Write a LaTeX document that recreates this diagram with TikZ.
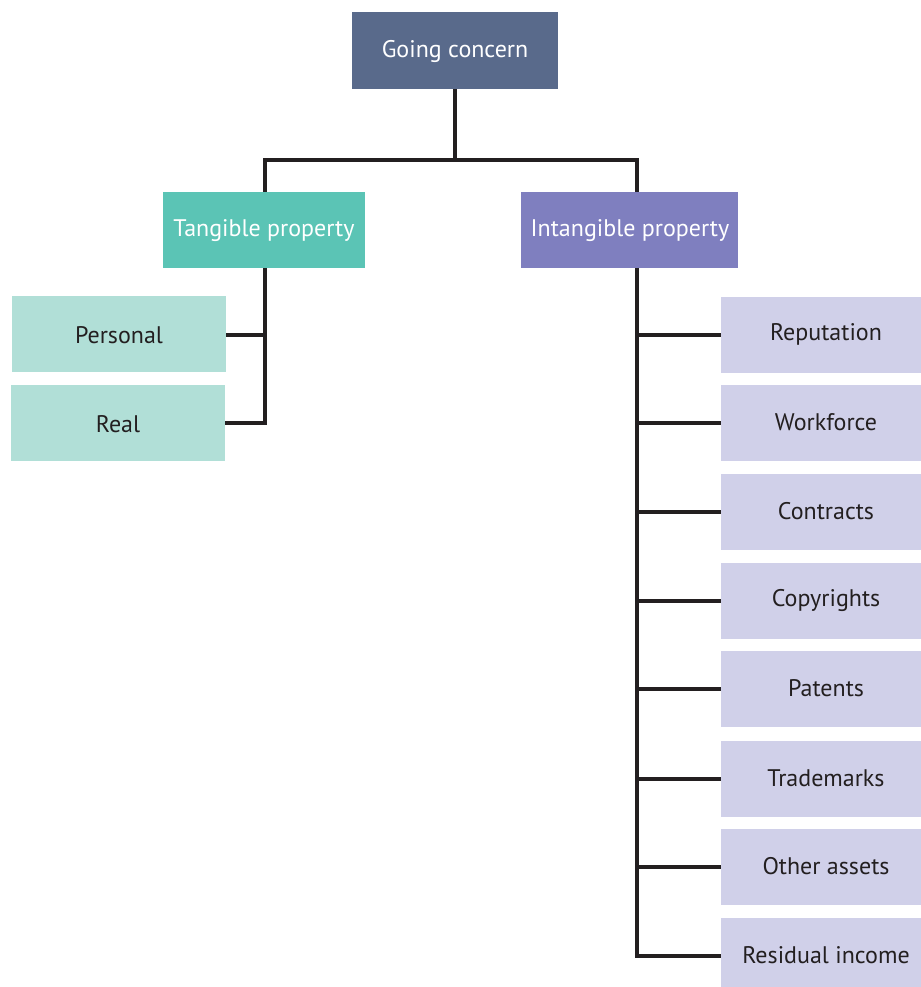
\documentclass[tikz,border=0pt]{standalone}
\usepackage{fontspec}
\setmainfont{PT Sans}
\definecolor{topc}{HTML}{596A8B}
\definecolor{tanc}{HTML}{5BC4B5}
\definecolor{intc}{HTML}{7F7FBF}
\definecolor{ltan}{HTML}{B1DFD7}
\definecolor{lint}{HTML}{D0D0E9}
\definecolor{linec}{HTML}{231F20}
\begin{document}
\begin{tikzpicture}[x=0.75pt,y=-0.75pt,
  box/.style={draw=none,inner sep=0pt,font=\fontsize{18}{21}\selectfont},
  wbox/.style={box,text=white},
  dbox/.style={box,text=linec},
  conn/.style={draw=linec,line width=3.2pt}]
\useasboundingbox (0,0) rectangle (920,987);
\fill[white] (0,0) rectangle (920,987);
% boxes
\fill[topc] (352,12) rectangle (558,89);
\node[wbox] (gc) at (455,51.5) {Going concern};
\coordinate (gcb) at (455,89);
\fill[tanc] (163,192) rectangle (365,268);
\node[wbox] (tp) at (264,231) {Tangible property};
\fill[intc] (521,192) rectangle (738,268);
\node[wbox] (ip) at (630,231) {Intangible property};
\fill[ltan] (12,296) rectangle (226,372);
\node[dbox] (pe) at (119,335) {Personal};
\fill[ltan] (11,385) rectangle (225,461);
\node[dbox] (re) at (118,424) {Real};
\foreach \n/\t/\y in {r1/Reputation/297,r2/Workforce/385,r3/Contracts/474,r4/Copyrights/563,r5/Patents/651,r6/Trademarks/741,r7/Other assets/829,r8/Residual income/918}{
  \fill[lint] (721,\y) rectangle (932,\y+76);
  \coordinate (\n) at (721,\y+38);
  \node[dbox] (\n t) at (826,\y+37) {\t};
}
% connectors
\coordinate (j0) at (455,160);
\coordinate (jl) at (265,160);
\coordinate (jr) at (637,160);
\draw[conn] (gcb) -- (j0);
\draw[conn,line cap=rect] (jl) -- (jr);
\draw[conn] (jl) -- (265,192);
\draw[conn] (jr) -- (637,192);
\coordinate (tb) at (265,268);
\coordinate (tend) at (265,423);
\draw[conn] (tb) -- (tend);
\draw[conn] (226,335) -- (265,335);
\draw[conn] (225,423) -- (267,423);
\coordinate (ib) at (637,268);
\draw[conn] (ib) -- (637,957);
\foreach \n in {r1,r2,r3,r4,r5,r6,r7,r8}{
  \draw[conn] (635,0|-\n) -- (\n);
}
\end{tikzpicture}
\end{document}
